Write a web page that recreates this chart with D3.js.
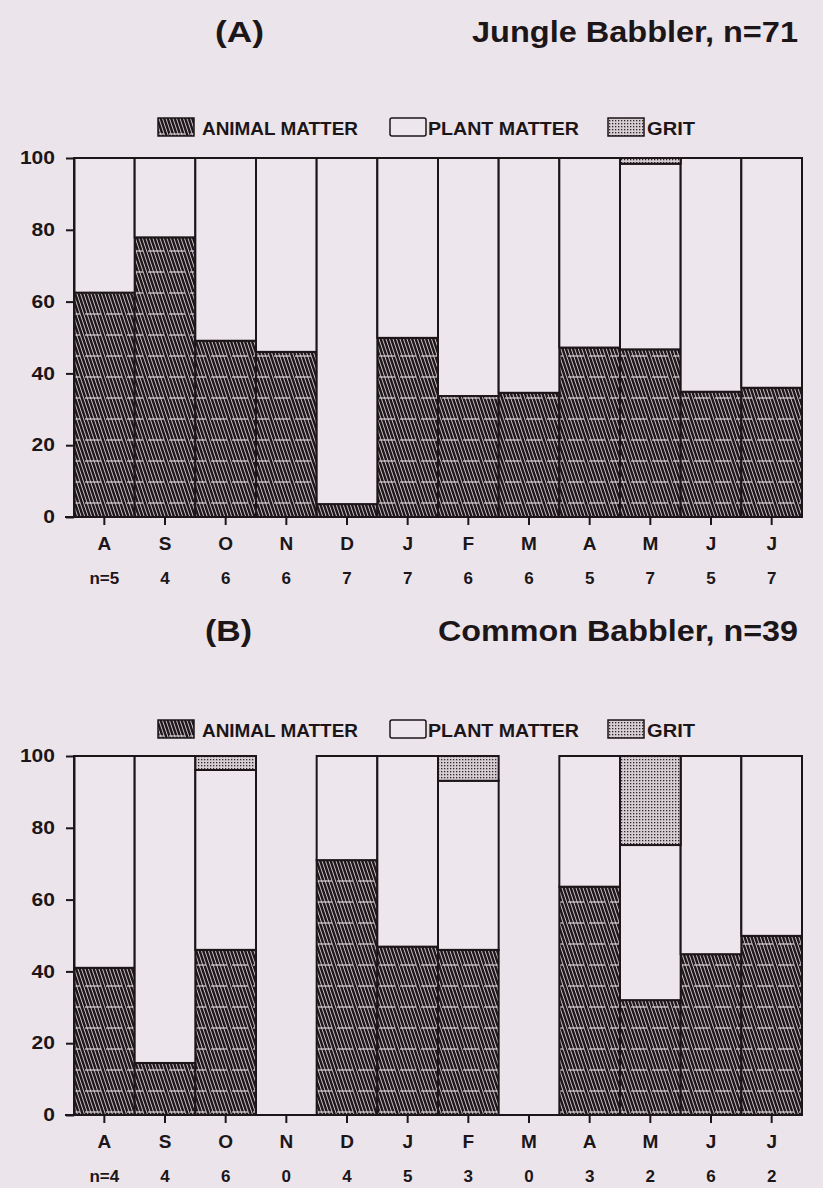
<!DOCTYPE html>
<html>
<head>
<meta charset="utf-8">
<script src="https://cdn.jsdelivr.net/npm/d3@7"></script>
<style>
    body { margin: 0; background: #ece4eb; }
    svg { display: block; }
    text { fill: #1c1618; font-family: "Liberation Sans", Arial, sans-serif; font-weight: bold; }
</style>
</head>
<body>
<div id="chart"></div>
<script>
// month axis and sample sizes
const months = ["A", "S", "O", "N", "D", "J", "F", "M", "A", "M", "J", "J"];
const nJungle = [5, 4, 6, 6, 7, 7, 6, 6, 5, 7, 5, 7];
const nCommon = [4, 4, 6, 0, 4, 5, 3, 0, 3, 2, 6, 2];

// percent animal matter / grit per month (plant = remainder), null = no sample
const animalJungle = [62.5, 77.9, 49.1, 46.0, 3.6, 49.9, 33.7, 34.6, 47.2, 46.7, 34.9, 36.0];
const gritJungle = [0, 0, 0, 0, 0, 0, 0, 0, 0, 1.6, 0, 0];
const animalCommon = [41.0, 14.5, 46.0, null, 71.0, 46.9, 46.0, null, 63.6, 32.0, 44.8, 49.9];
const gritCommon = [0, 0, 3.9, null, 0, 0, 6.9, null, 0, 24.8, 0, 0];

const yTicks = [0, 20, 40, 60, 80, 100];
const legendItems = ["ANIMAL MATTER", "PLANT MATTER", "GRIT"];

const width = 823, height = 1188;
const ink = "#1c1618";

const svg = d3.select("#chart").append("svg")
    .attr("width", width)
    .attr("height", height);

// fill patterns
const defs = svg.append("defs");
const hatch = defs.append("pattern")
    .attr("id", "hatch")
    .attr("patternUnits", "userSpaceOnUse")
    .attr("width", 21).attr("height", 21);
hatch.append("rect").attr("width", 21).attr("height", 21).attr("fill", "#1f181b");
d3.range(-7, 28, 3.5).forEach(i => {
    hatch.append("line")
        .attr("x1", i).attr("y1", 0).attr("x2", i + 7).attr("y2", 21)
        .attr("stroke", "#d9d1d7").attr("stroke-width", 0.9);
});
hatch.append("line")
    .attr("x1", 1).attr("x2", 17).attr("y1", 20).attr("y2", 20)
    .attr("stroke", "#e8e0e6").attr("stroke-width", 1.1);

const dots = defs.append("pattern")
    .attr("id", "grit")
    .attr("patternUnits", "userSpaceOnUse")
    .attr("width", 3).attr("height", 3);
dots.append("rect").attr("width", 3).attr("height", 3).attr("fill", "#d6ced3");
dots.append("rect").attr("width", 1.3).attr("height", 1.3).attr("fill", "#2e2629");

const fills = { animal: "url(#hatch)", plant: "#eee6ed", grit: "url(#grit)" };

const x = d3.scaleBand()
    .domain(d3.range(months.length))
    .range([74, 802])
    .paddingInner(0);

function drawPanel(opt) {
    const g = svg.append("g");
    const y = d3.scaleLinear().domain([0, 100]).range([opt.y0, opt.y0 - 359]);

    // titles
    g.append("text")
        .attr("x", opt.tagX).attr("y", opt.titleY)
        .attr("font-size", 29)
        .attr("textLength", opt.tagW)
        .attr("lengthAdjust", "spacingAndGlyphs")
        .text(opt.tag);
    g.append("text")
        .attr("x", 798 - opt.titleW).attr("y", opt.titleY)
        .attr("font-size", 29)
        .attr("textLength", opt.titleW)
        .attr("lengthAdjust", "spacingAndGlyphs")
        .text(opt.title);

    // legend
    const lg = g.append("g").attr("transform", "translate(0," + opt.legendY + ")");
    const swX = [158, 390, 608];
    const txX = [202, 428, 647];
    const txW = [156, 151, 48];
    legendItems.forEach((name, i) => {
        const key = ["animal", "plant", "grit"][i];
        lg.append("rect")
            .attr("x", swX[i]).attr("y", -17)
            .attr("width", 36).attr("height", 18)
            .attr("rx", i == 1 ? 2 : 0)
            .attr("fill", fills[key])
            .attr("stroke", ink).attr("stroke-width", 1.5);
        lg.append("text")
            .attr("x", txX[i]).attr("y", 0)
            .attr("font-size", 18)
            .attr("textLength", txW[i])
            .attr("lengthAdjust", "spacingAndGlyphs")
            .text(name);
    });

    // stacked bars
    const rows = months.map((m, i) => opt.animal[i] == null ? null : {
        i: i,
        animal: opt.animal[i],
        grit: opt.grit[i],
        plant: 100 - opt.animal[i] - opt.grit[i]
    });
    const stack = d3.stack().keys(["animal", "plant", "grit"]);
    const series = stack(rows.filter(d => d));
    series.forEach(s => {
        g.append("g").selectAll("rect")
            .data(s.filter(d => d[1] - d[0] > 0))
            .join("rect")
            .attr("x", d => x(d.data.i))
            .attr("width", x.bandwidth())
            .attr("y", d => y(d[1]))
            .attr("height", d => y(d[0]) - y(d[1]))
            .attr("fill", fills[s.key])
            .attr("stroke", ink)
            .attr("stroke-width", 2);
    });

    // y axis
    const yAxis = g.append("g")
        .attr("transform", "translate(74,0)")
        .call(d3.axisLeft(y).tickValues(yTicks).tickSize(8).tickSizeOuter(0).tickPadding(11));
    yAxis.selectAll("text")
        .attr("font-size", 18)
        .attr("font-family", "Liberation Sans, Arial, sans-serif")
        .attr("font-weight", "bold")
        .attr("fill", ink)
        .attr("textLength", d => String(d).length * 11.7)
        .attr("lengthAdjust", "spacingAndGlyphs");
    yAxis.selectAll("line, path").attr("stroke", ink).attr("stroke-width", 2);

    // x axis
    const xAxis = g.append("g")
        .attr("transform", "translate(0," + opt.y0 + ")")
        .call(d3.axisBottom(x).tickFormat(i => months[i]).tickSize(8).tickSizeOuter(0).tickPadding(12));
    xAxis.select(".domain").remove();
    xAxis.selectAll("text")
        .attr("font-size", 19)
        .attr("font-family", "Liberation Sans, Arial, sans-serif")
        .attr("font-weight", "bold")
        .attr("fill", ink);
    xAxis.selectAll("line").attr("stroke", ink).attr("stroke-width", 2);
    g.append("line")
        .attr("x1", 65).attr("x2", x.range()[1])
        .attr("y1", opt.y0).attr("y2", opt.y0)
        .attr("stroke", ink).attr("stroke-width", 2.2);

    // sample sizes
    g.append("g").selectAll("text")
        .data(opt.n)
        .join("text")
        .attr("x", (d, i) => x(i) + x.bandwidth() / 2)
        .attr("y", opt.y0 + 67)
        .attr("text-anchor", "middle")
        .attr("font-size", 17)
        .text((d, i) => i == 0 ? "n=" + d : d);
}

drawPanel({
    tag: "(A)", tagX: 215, tagW: 49, title: "Jungle Babbler, n=71", titleW: 326, titleY: 42,
    legendY: 135, y0: 517,
    animal: animalJungle, grit: gritJungle, n: nJungle
});
drawPanel({
    tag: "(B)", tagX: 205, tagW: 47, title: "Common Babbler, n=39", titleW: 360, titleY: 641,
    legendY: 737, y0: 1115,
    animal: animalCommon, grit: gritCommon, n: nCommon
});
</script>
</body>
</html>
